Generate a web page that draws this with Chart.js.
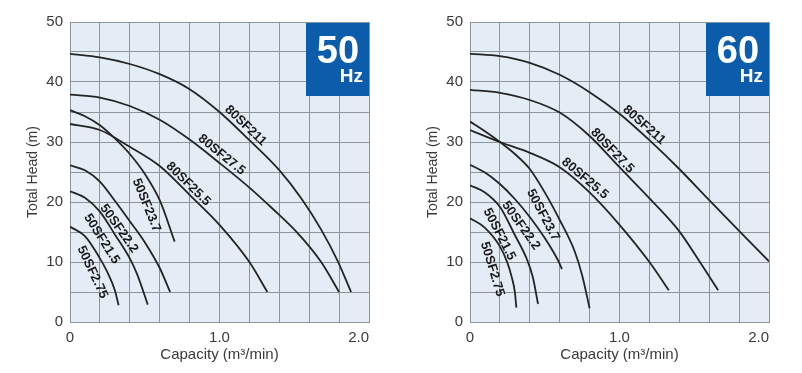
<!DOCTYPE html>
<html><head><meta charset="utf-8">
<script src="https://cdn.jsdelivr.net/npm/chart.js@4/dist/chart.umd.min.js"></script>
<style>
html,body{margin:0;padding:0;background:#fff;}
#wrap{position:relative;width:802px;height:373px;overflow:hidden;}
.pane{position:absolute;top:0;width:400px;height:373px;}
</style></head><body>
<div id="wrap">
<div class="pane" style="left:0"><canvas id="c50" width="400" height="373"></canvas></div>
<div class="pane" style="left:400px"><canvas id="c60" width="400" height="373"></canvas></div>
</div>
<script>
// ---- data ----
const seriesNames = ['80SF211','80SF27.5','80SF25.5','50SF23.7','50SF22.2','50SF21.5','50SF2.75'];
const xTickValues = [0, 1, 2];
const xTickLabels = ['0', '1.0', '2.0'];
const yTickValues = [0, 10, 20, 30, 40, 50];

// 50 Hz: capacity (m3/min) / total head (m)
const q50_80SF211 = [0,0.2,0.4,0.6,0.8,1.0,1.2,1.4,1.55,1.68,1.79,1.88];
const h50_80SF211 = [44.7,44.1,43.0,41.3,38.8,35.0,30.3,25.3,20.5,15.4,10.2,5.0];
const q50_80SF275 = [0,0.2,0.4,0.6,0.8,1.0,1.2,1.35,1.52,1.68,1.8];
const h50_80SF275 = [37.9,37.4,36.0,33.7,30.4,26.5,22.4,19.0,14.9,10.0,5.0];
const q50_80SF255 = [0,0.2,0.4,0.6,0.8,1.0,1.2,1.32];
const h50_80SF255 = [33.0,32.0,29.2,26.0,21.2,16.2,10.0,5.0];
const q50_50SF237 = [0,0.1,0.2,0.3,0.4,0.5,0.6,0.7];
const h50_50SF237 = [35.3,34.3,32.8,30.6,28.0,24.7,20.3,13.4];
const q50_50SF222 = [0,0.1,0.2,0.3,0.4,0.5,0.6,0.67];
const h50_50SF222 = [26.1,25.3,23.4,20.2,16.8,13.3,9.0,5.0];
const q50_50SF215 = [0,0.1,0.2,0.3,0.4,0.45,0.52];
const h50_50SF215 = [21.8,20.7,18.4,14.6,10.6,7.9,2.9];
const q50_50SF275 = [0,0.1,0.2,0.25,0.3,0.325];
const h50_50SF275 = [15.9,14.3,10.6,8.3,5.3,2.8];

// 60 Hz
const q60_80SF211 = [0,0.2,0.4,0.6,0.8,1.0,1.2,1.4,1.6,1.8,2.0];
const h60_80SF211 = [44.7,44.3,43.2,41.2,38.3,34.7,30.3,25.5,20.3,15.2,10.1];
const q60_80SF275 = [0,0.2,0.4,0.6,0.8,1.0,1.22,1.4,1.53,1.66];
const h60_80SF275 = [38.7,38.2,37.0,34.9,31.0,25.8,20.1,15.1,10.3,5.3];
const q60_80SF255 = [0,0.2,0.4,0.6,0.8,1.0,1.2,1.33];
const h60_80SF255 = [32.0,30.0,28.2,25.8,21.6,16.2,10.0,5.3];
const q60_50SF237 = [0,0.1,0.2,0.3,0.4,0.5,0.6,0.7,0.75,0.8];
const h60_50SF237 = [33.4,31.8,30.0,28.0,25.5,21.6,17.0,11.8,7.8,2.3];
const q60_50SF222 = [0,0.1,0.2,0.3,0.4,0.5,0.55,0.6,0.615];
const h60_50SF222 = [26.2,24.9,23.0,20.5,17.5,14.0,12.0,9.7,8.8];
const q60_50SF215 = [0,0.1,0.2,0.3,0.38,0.42,0.455];
const h60_50SF215 = [22.8,21.6,19.2,14.5,10.5,7.5,3.0];
const q60_50SF275 = [0,0.1,0.2,0.25,0.28,0.3,0.31];
const h60_50SF275 = [17.3,15.7,12.6,9.9,7.4,5.0,2.4];

// ---- layout / style: where each curve's name sits (anchor on the curve + pixel nudge) ----
const labelPlace50 = [
  {at:1.175, dx:0, dy:-11}, {at:1.015, dx:0, dy:-10}, {at:0.791, dx:0, dy:-9.5},
  {at:0.612, dx:-15, dy:0}, {at:0.435, dx:-16, dy:0}, {at:0.319, dx:-16, dy:0}, {at:0.25, dx:-15, dy:0}
];
const labelPlace60 = [
  {at:1.164, dx:0, dy:-10.4}, {at:0.952, dx:0, dy:-9}, {at:0.769, dx:0, dy:-10},
  {at:0.582, dx:-14, dy:0}, {at:0.441, dx:-15, dy:0}, {at:0.297, dx:-15, dy:0}, {at:0.263, dx:-17, dy:0}
];

const FONT = "'Liberation Sans', Arial, Helvetica, sans-serif";
const TEXT = '#3a3a3a';
const GRID = '#8e949b';
const PLOT_BG = '#e4edf6';
const BADGE = '#0b5cab';
const LINE = '#242424';

function pairs(q, h){ return q.map((v,i)=>({x:v, y:h[i]})); }

function interp(q, h, x){
  if (x <= q[0]) return h[0];
  for (let i=1;i<q.length;i++){
    if (x <= q[i]) { const t=(x-q[i-1])/(q[i]-q[i-1]); return h[i-1]+t*(h[i]-h[i-1]); }
  }
  return h[h.length-1];
}

const bgPlugin = {
  id:'plotBg',
  beforeDraw(chart){
    const a = chart.chartArea, c = chart.ctx;
    c.save(); c.fillStyle = PLOT_BG; c.fillRect(a.left, a.top, a.right-a.left, a.bottom-a.top); c.restore();
  }
};

const badgePlugin = {
  id:'hzBadge',
  beforeDatasetsDraw(chart, args, opts){
    const a = chart.chartArea, c = chart.ctx;
    const w = 63, h = 73;
    const x0 = a.right - w, y0 = a.top + 1;
    c.save();
    c.fillStyle = BADGE; c.fillRect(x0, y0, w, h);
    c.fillStyle = '#ffffff';
    c.textAlign = 'center'; c.textBaseline = 'alphabetic';
    c.font = "bold 38px " + FONT;
    c.fillText(opts.freq, x0 + w/2 + 0.5, y0 + 40);
    c.textAlign = 'right';
    c.font = "bold 19px " + FONT;
    c.fillText('Hz', x0 + w - 6, y0 + 59);
    c.restore();
  }
};

const labelPlugin = {
  id:'curveLabels',
  afterDatasetsDraw(chart, args, opts){
    const xs = chart.scales.x, ys = chart.scales.y, c = chart.ctx;
    c.save();
    c.fillStyle = '#1a1a1a';
    c.font = "bold 13px " + FONT;
    c.textAlign = 'center'; c.textBaseline = 'middle';
    chart.data.datasets.forEach((ds, i) => {
      const p = opts.place[i]; if (!p) return;
      const q = ds.data.map(d=>d.x), h = ds.data.map(d=>d.y);
      const x = p.at;
      const px = xs.getPixelForValue(x), py = ys.getPixelForValue(interp(q,h,x));
      const x1 = xs.getPixelForValue(x-0.03), y1 = ys.getPixelForValue(interp(q,h,x-0.03));
      const x2 = xs.getPixelForValue(x+0.03), y2 = ys.getPixelForValue(interp(q,h,x+0.03));
      const th = Math.atan2(y2-y1, x2-x1);
      c.save(); c.translate(px + p.dx, py + p.dy); c.rotate(th); c.fillText(ds.label, 0, 0); c.restore();
    });
    c.restore();
  }
};

function makeChart(id, curves, place, freq){
  const datasets = curves.map((cv, i) => ({
    label: seriesNames[i],
    data: pairs(cv[0], cv[1]),
    borderColor: LINE, borderWidth: 1.8, pointRadius: 0,
    fill: false, cubicInterpolationMode: 'monotone'
  }));
  return new Chart(document.getElementById(id), {
    type: 'line',
    data: { datasets },
    plugins: [bgPlugin, badgePlugin, labelPlugin],
    options: {
      responsive: false, animation: false, events: [],
      layout: { padding: { left: 0, right: 31, top: 22, bottom: 0 } },
      plugins: {
        legend: { display: false }, tooltip: { enabled: false },
        hzBadge: { freq }, curveLabels: { place }
      },
      scales: {
        x: {
          type: 'linear', min: 0, max: 2,
          afterBuildTicks(s){ const t=[]; for(let k=0;k<=10;k++) t.push({value: k*0.2}); s.ticks = t; },
          afterFit(s){ s.height = 51; },
          grid: { color: GRID, lineWidth: 1, drawTicks: false },
          border: { color: GRID },
          ticks: {
            padding: 7, color: TEXT, font: { family: FONT, size: 15 }, maxRotation: 0, autoSkip: false,
            callback(v){
              const k = xTickValues.findIndex(t => Math.abs(t - v) < 1e-6);
              if (k < 0) return '';
              // last label sits flush with the right edge of the plot
              return k === xTickValues.length - 1 ? xTickLabels[k] + '     ' : xTickLabels[k];
            }
          },
          title: { display: true, text: 'Capacity (m³/min)', color: TEXT, font: { family: FONT, size: 15 }, padding: { top: 0, bottom: 9 } }
        },
        y: {
          type: 'linear', min: 0, max: 50,
          afterBuildTicks(s){ const t=[]; for(let k=0;k<=10;k++) t.push({value: k*5}); s.ticks = t; },
          afterFit(s){ s.width = 70; },
          grid: { color: GRID, lineWidth: 1, drawTicks: false },
          border: { color: GRID },
          ticks: {
            padding: 7, color: TEXT, font: { family: FONT, size: 15 }, autoSkip: false,
            callback(v){ return yTickValues.includes(Math.round(v*100)/100) ? String(v) : ''; }
          },
          title: { display: true, text: 'Total Head (m)', color: TEXT, font: { family: FONT, size: 14 }, padding: { top: 25, bottom: 0 } }
        }
      }
    }
  });
}

makeChart('c50', [
  [q50_80SF211, h50_80SF211], [q50_80SF275, h50_80SF275], [q50_80SF255, h50_80SF255],
  [q50_50SF237, h50_50SF237], [q50_50SF222, h50_50SF222], [q50_50SF215, h50_50SF215], [q50_50SF275, h50_50SF275]
], labelPlace50, '50');

makeChart('c60', [
  [q60_80SF211, h60_80SF211], [q60_80SF275, h60_80SF275], [q60_80SF255, h60_80SF255],
  [q60_50SF237, h60_50SF237], [q60_50SF222, h60_50SF222], [q60_50SF215, h60_50SF215], [q60_50SF275, h60_50SF275]
], labelPlace60, '60');
</script>
</body></html>
